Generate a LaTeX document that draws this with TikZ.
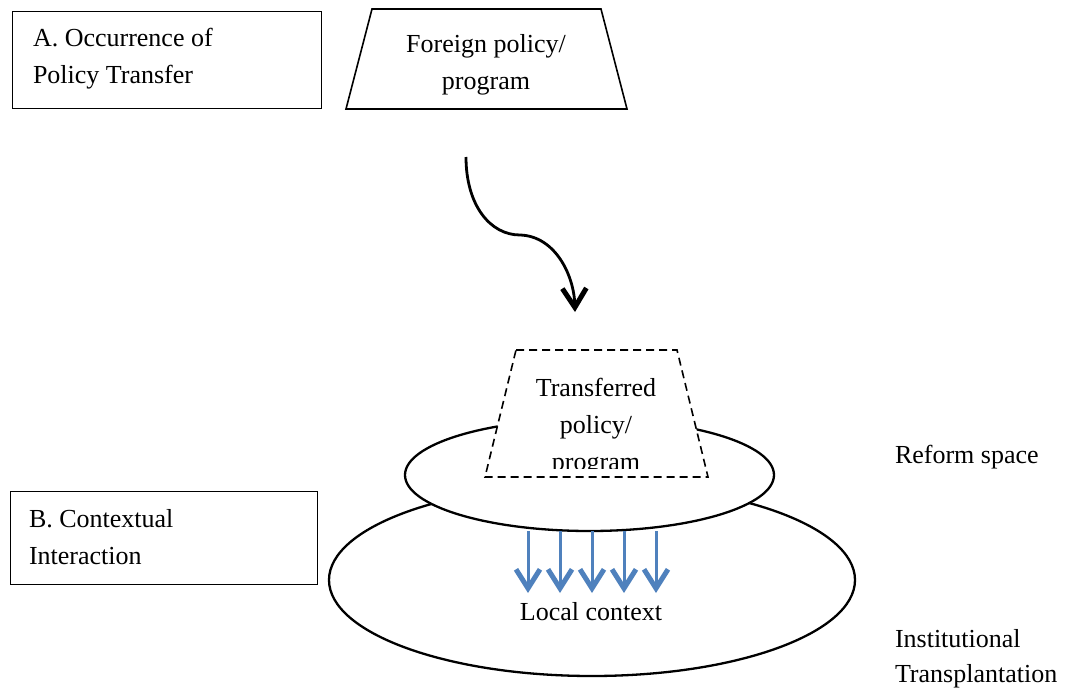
\documentclass[tikz,border=0pt]{standalone}
\usepackage{fontspec}
\setmainfont{Liberation Serif}
\usetikzlibrary{arrows.meta,shapes.geometric}
\definecolor{flowblue}{RGB}{79,129,189}
\tikzset{
  x=1pt, y=-1pt,
  txt/.style={font=\fontsize{26}{37}\selectfont, inner sep=0pt, outer sep=0pt},
  labelbox/.style={draw, line width=1pt, fill=white},
  ring/.style={draw, line width=2.3pt, fill=white},
  flow/.style={flowblue, line width=3pt,
    -{Straight Barb[length=19pt, width=24pt, line width=5pt]}},
}
\begin{document}
\begin{tikzpicture}
\useasboundingbox (0,0) rectangle (1069,688);

% stage labels
\draw[labelbox] (12,11) rectangle (321,108);
\node[txt, align=left, anchor=north west] (stageA) at (33,28) {A. Occurrence of\\Policy Transfer};
\draw[labelbox] (10,491) rectangle (317,584);
\node[txt, align=left, anchor=north west] (stageB) at (29,509) {B. Contextual\\Interaction};

% source policy
\draw[line width=1.6pt, line join=miter] (372,9) -- (601,9) -- (627,109) -- (346,109) -- cycle;
\node[txt, align=center] (foreign) at (486,64.5) {Foreign policy/\\program};

% transfer arrow
\coordinate (srcEnd) at (466,157);
\coordinate (dstEnd) at (575,312);
\draw[line width=2.8pt, -{Straight Barb[length=19pt, width=24pt, line width=5pt]}]
  (srcEnd) .. controls (466,205) and (490,235) .. (520,235)
           .. controls (555,236) and (574,275) .. (dstEnd);

% receiving context
\node[ring, ellipse, minimum width=526, minimum height=192, inner sep=0pt] (local) at (592,580) {};
\node[ring, ellipse, minimum width=369, minimum height=112, inner sep=0pt] (reform) at (589.5,475) {};

% transferred policy
\draw[line width=1.6pt, dash pattern=on 8pt off 5pt, fill=white] (516,350) -- (677,350) -- (708,477) -- (485,477) -- cycle;
\begin{scope}
  \clip (480,340) rectangle (720,468);
  \node[txt, align=center, anchor=north] (transferred) at (596,378) {Transferred\\policy/\\program};
\end{scope}

% downward influence
\foreach \x [count=\i] in {528,560,592,624,656} {
  \coordinate (top\i) at (\x,531);
  \coordinate (bot\i) at (\x,593);
  \draw[flow] (top\i) -- (bot\i);
}
\node[txt] (localtxt) at (591,612) {Local context};

% side captions
\node[txt, anchor=west] (reformtxt) at (895,457) {Reform space};
\node[txt, align=left, anchor=north west, font=\fontsize{26}{35}\selectfont] (insttxt) at (895,629) {Institutional\\Transplantation};
\end{tikzpicture}
\end{document}
